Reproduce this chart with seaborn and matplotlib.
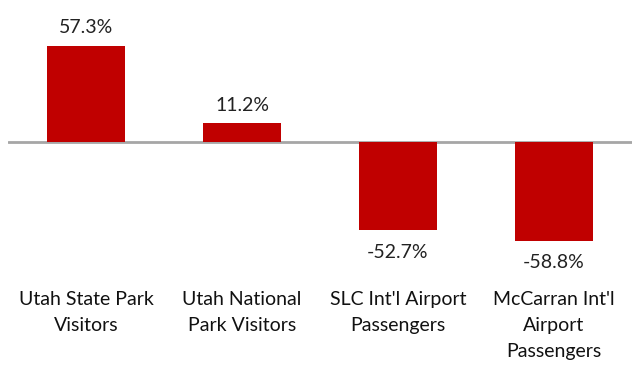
import matplotlib
matplotlib.use("Agg")
import matplotlib.pyplot as plt
import seaborn as sns
import pandas as pd

categories = ["Utah State Park\nVisitors", "Utah National\nPark Visitors",
              "SLC Int'l Airport\nPassengers", "McCarran Int'l\nAirport\nPassengers"]
changes = [57.3, 11.2, -52.7, -58.8]

df = pd.DataFrame({"category": categories, "change": changes})

sns.set_theme(style="white")
plt.rcParams['font.family'] = ['Lato', 'DejaVu Sans']

fig = plt.figure(figsize=(6.32, 3.73), dpi=100)
ax = fig.add_axes([8 / 632, (373 - 260) / 373, 624 / 632, 240 / 373])

sns.barplot(data=df, x="category", y="change", color="#C00000", width=0.5,
            saturation=1, linewidth=0, ax=ax)

ax.set_xlim(-0.5, 3.5)
ax.set_ylim(-70.4, 72.8)
ax.axhline(0, color="#A6A6A6", lw=2, zorder=0)

for i, v in enumerate(changes):
    if v >= 0:
        ax.annotate(f"{v:.1f}%", (i, v), xytext=(0, 7), textcoords="offset points",
                    ha="center", va="bottom", fontsize=14, color="#222222")
    else:
        ax.annotate(f"{v:.1f}%", (i, v), xytext=(0, -10), textcoords="offset points",
                    ha="center", va="top", fontsize=14, color="#222222")

ax.set_xlabel("")
ax.set_ylabel("")
ax.set_yticks([])
ax.tick_params(axis="x", length=0, pad=22, labelsize=14, labelcolor="#111111")
for lab in ax.get_xticklabels():
    lab.set_linespacing(1.65)
sns.despine(ax=ax, left=True, bottom=True)

fig.savefig("out.png", dpi=100)
